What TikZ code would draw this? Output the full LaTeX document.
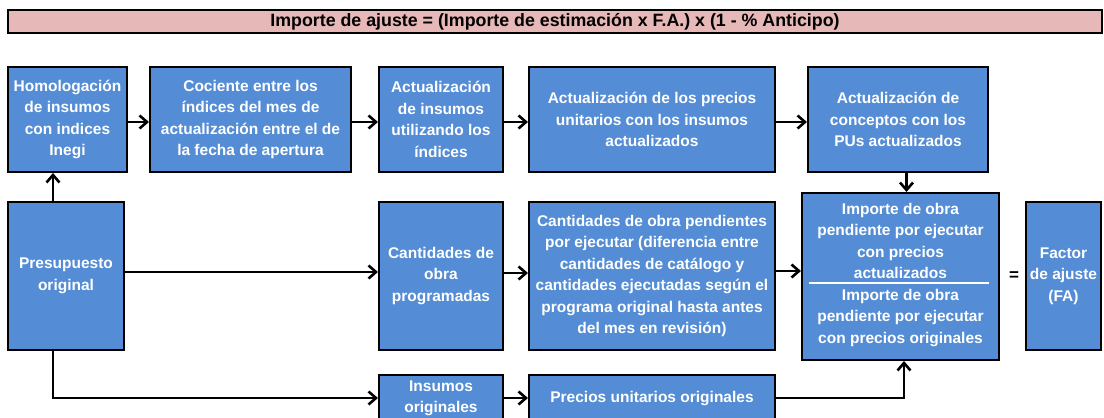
\documentclass[tikz,border=0pt]{standalone}
\usepackage{fontspec}
\setmainfont{Liberation Sans}
\usetikzlibrary{arrows.meta}
\definecolor{boxblue}{RGB}{84,141,213}
\definecolor{titlepink}{RGB}{230,184,183}
\begin{document}
\begin{tikzpicture}[x=1pt,y=-1pt,
  bluebox/.style={draw=black,line width=2pt,fill=boxblue,text=white,inner sep=0pt,align=center,
    font=\fontsize{15.5}{21.5}\selectfont\bfseries},
  conn/.style={line width=2.8pt,-{Straight Barb[length=7.5pt,width=13pt,line width=2.6pt]}}]
\clip (0,0) rectangle (1104,418);
\fill[white] (0,0) rectangle (1104,418);
% title
\node[draw=black,line width=2pt,fill=titlepink,minimum width=1094pt,minimum height=23pt,inner sep=0pt,
  font=\fontsize{17.8}{20}\selectfont\bfseries] (title) at (555,21.5)
  {Importe de ajuste = (Importe de estimación x F.A.) x (1 - \% Anticipo)};
% top row
\node[bluebox,minimum width=119pt,minimum height=105pt] (hom) at (67.5,119.5)
  {Homologación\\de insumos\\con indices\\Inegi};
\node[bluebox,minimum width=201pt,minimum height=105pt] (coc) at (250.5,119.5)
  {Cociente entre los\\índices del mes de\\actualización entre el de\\la fecha de apertura};
\node[bluebox,minimum width=124pt,minimum height=105pt] (actins) at (441,119.5)
  {Actualización\\de insumos\\utilizando los\\índices};
\node[bluebox,minimum width=246pt,minimum height=105pt] (actpu) at (652,119.5)
  {Actualización de los precios\\unitarios con los insumos\\actualizados};
\node[bluebox,minimum width=180pt,minimum height=105pt] (actcon) at (898,119.5)
  {Actualización de\\conceptos con los\\PUs actualizados};
% middle row
\node[bluebox,minimum width=116pt,minimum height=148pt] (pres) at (66,276)
  {Presupuesto\\original};
\node[bluebox,minimum width=124pt,minimum height=148pt] (cprog) at (441,276)
  {Cantidades de\\obra\\programadas};
\node[bluebox,minimum width=246pt,minimum height=148pt] (cpend) at (652,276)
  {Cantidades de obra pendientes\\por ejecutar (diferencia entre\\cantidades de catálogo y\\cantidades ejecutadas según el\\programa original hasta antes\\del mes en revisión)};
\node[bluebox,minimum width=197pt,minimum height=167pt] (imp) at (900.5,276.5) {};
\node[bluebox,draw=none,fill=none] (impa) at (900.5,241)
  {Importe de obra\\pendiente por ejecutar\\con precios\\actualizados};
\node[bluebox,draw=none,fill=none] (impb) at (900.5,318)
  {Importe de obra\\pendiente por ejecutar\\con precios originales};
\coordinate (fracl) at (809,283);
\coordinate (fracr) at (989,283);
\draw[white,line width=1.5pt] (fracl) -- (fracr);
\node[font=\fontsize{17}{18}\selectfont\bfseries,inner sep=0pt] (eq) at (1014,276) {=};
\node[bluebox,minimum width=75pt,minimum height=148pt] (fa) at (1063.5,276)
  {Factor\\de ajuste\\(FA)};
% bottom row
\node[bluebox,minimum width=124pt,minimum height=47pt] (insor) at (441,398.5)
  {Insumos\\originales};
\node[bluebox,minimum width=246pt,minimum height=47pt] (puor) at (652,398.5)
  {Precios unitarios originales};
% connectors
\draw[conn] (hom.east |- 0,122) -- (coc.west |- 0,122);
\draw[conn] (coc.east |- 0,122) -- (actins.west |- 0,122);
\draw[conn] (actins.east |- 0,122) -- (actpu.west |- 0,122);
\draw[conn] (actpu.east |- 0,122) -- (actcon.west |- 0,122);
\coordinate (vx) at (906.5,0);
\draw[conn] (actcon.south -| vx) -- (imp.north -| vx);
\coordinate (px) at (53,0);
\draw[conn] (pres.north -| px) -- (hom.south -| px);
\draw[conn] (pres.east |- 0,272) -- (cprog.west |- 0,272);
\draw[conn] (cprog.east |- 0,273) -- (cpend.west |- 0,273);
\draw[conn] (cpend.east |- 0,271) -- (imp.west |- 0,271);
\coordinate (lowy) at (0,398);
\draw[conn] (pres.south -| px) |- (insor.west |- lowy);
\draw[conn] (insor.east |- lowy) -- (puor.west |- lowy);
\coordinate (ux) at (904,0);
\draw[conn] (puor.east |- lowy) -| (imp.south -| ux);
\end{tikzpicture}
\end{document}
